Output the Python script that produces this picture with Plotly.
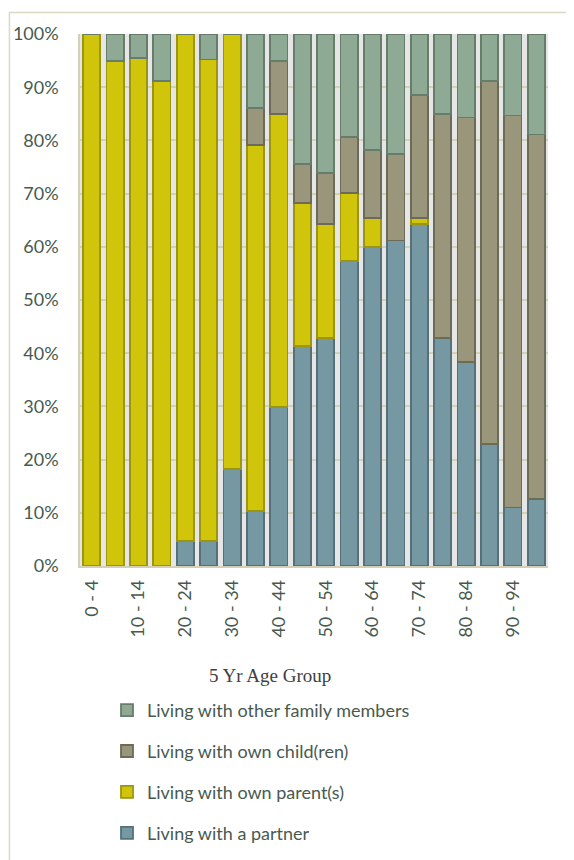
import plotly.graph_objects as go

age_groups = ["0 - 4", "5 - 9", "10 - 14", "15 - 19", "20 - 24", "25 - 29", "30 - 34",
              "35 - 39", "40 - 44", "45 - 49", "50 - 54", "55 - 59", "60 - 64", "65 - 69",
              "70 - 74", "75 - 79", "80 - 84", "85 - 89", "90 - 94", "95+"]

partner = [0, 0, 0, 0, 4.7, 4.7, 18.2, 10.3, 29.9, 41.4, 42.9, 57.4, 59.9, 61.2,
           64.3, 42.9, 38.4, 22.9, 11.0, 12.6]
parents = [100, 95.0, 95.5, 91.1, 95.3, 90.5, 81.8, 68.9, 55.0, 26.9, 21.4, 12.7, 5.5, 0,
           1.1, 0, 0, 0, 0, 0]
children = [0, 0, 0, 0, 0, 0, 0, 6.9, 10.0, 7.3, 9.5, 10.6, 12.8, 16.2,
            23.1, 42.0, 45.9, 68.2, 73.7, 68.5]
other = [0, 5.0, 4.5, 8.9, 0, 4.8, 0, 13.9, 5.1, 24.4, 26.2, 19.3, 21.8, 22.6,
         11.5, 15.1, 15.7, 8.9, 15.3, 18.9]

series = [
    ("Living with a partner", partner, "#7598A3", "#56707A", 4),
    ("Living with own parent(s)", parents, "#D1C50B", "#9C960E", 3),
    ("Living with own child(ren)", children, "#99967B", "#6B6B58", 2),
    ("Living with other family members", other, "#8FAA94", "#667D6B", 1),
]

fig = go.Figure()
for name, vals, fill, line, rank in series:
    fig.add_trace(go.Bar(
        x=age_groups, y=vals, name=name, legendgroup=name, legendrank=rank,
        marker=dict(color=fill, line=dict(color=line, width=1.8)),
    ))

text_color = "#485A50"

fig.update_layout(
    barmode="stack",
    barnorm="percent",
    bargap=0.27,
    width=566, height=852,
    margin=dict(l=72, r=26, t=25.5, b=294, autoexpand=False),
    paper_bgcolor="white",
    plot_bgcolor="#E6E6E6",
    font=dict(family="Lato, sans-serif", color=text_color, size=16),
    showlegend=True,
    legend=dict(
        traceorder="grouped",
        tracegroupgap=14.5,
        x=0.0577,
        xanchor="left",
        y=-0.2367, yanchor="top",
        font=dict(size=18, color=text_color),
        bgcolor="rgba(0,0,0,0)",
    ),
    xaxis=dict(
        type="category",
        automargin=False,
        tickmode="array",
        tickvals=age_groups[::2],
        ticktext=age_groups[::2],
        tickangle=-90,
        tickfont=dict(size=18, color=text_color),
        showgrid=False,
        showline=True, linecolor="#D4D0B8", linewidth=1.5,
        ticklabelstandoff=5,
    ),
    yaxis=dict(
        automargin=False,
        range=[0, 100],
        dtick=10,
        ticksuffix="%",
        tickfont=dict(size=18, color=text_color),
        showgrid=True, gridcolor="#D4D0B4", gridwidth=2,
        showline=True, linecolor="#D4D0B8", linewidth=1.5,
        zeroline=False,
        ticklabelstandoff=16,
    ),
    annotations=[dict(
        text="5 Yr Age Group", xref="paper", yref="paper",
        x=0.406, y=-0.2066, xanchor="center", yanchor="middle",
        showarrow=False,
        font=dict(family="Liberation Serif, Times New Roman, serif", size=19, color="#404040"),
    )],
    shapes=[dict(
        type="rect", xref="paper", yref="paper",
        x0=-0.1507, x1=1.2, y0=-0.7, y1=1.0404,
        line=dict(color="#D9D9C6", width=1.5), fillcolor="rgba(0,0,0,0)",
        layer="below",
    )],
)

fig.write_html("out.html")
